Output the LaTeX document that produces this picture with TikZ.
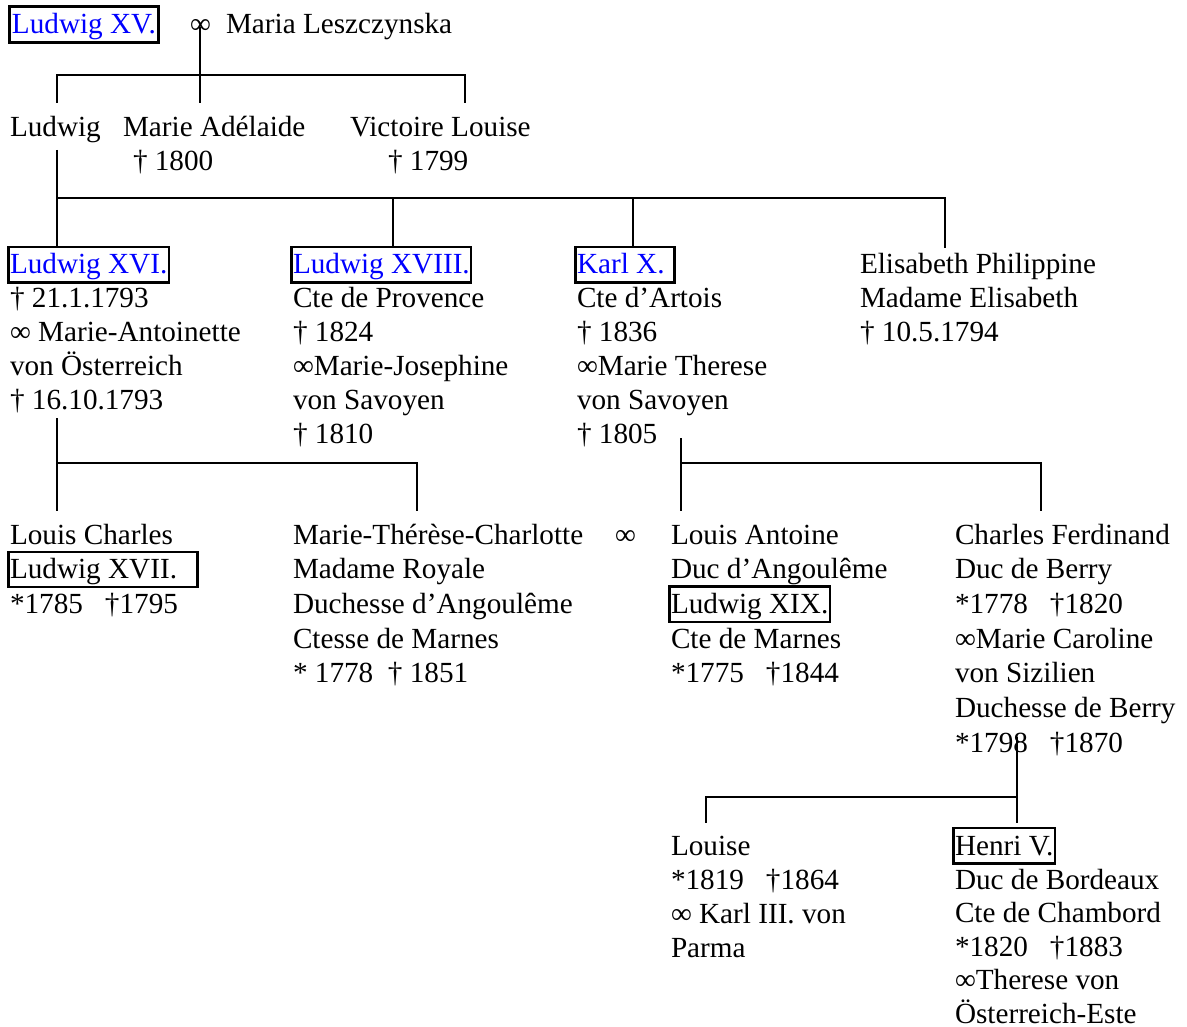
\documentclass[tikz,border=0pt]{standalone}
\usepackage{fontspec}
\setmainfont{Liberation Serif}
\newcommand\lines[1]{\vtop{\let\\\cr\halign{##\hfil\cr#1\crcr}}}
\newcommand\st{\relax *}
\begin{document}
\begin{tikzpicture}[x=1pt,y=-1pt,
  every node/.style={inner sep=0pt, outer sep=0pt, anchor=base west},
  base/.style={font=\fontsize{29.2}{34}\selectfont},
  wide/.style={font=\fontsize{29.2}{34.7}\selectfont},
  narrow/.style={font=\fontsize{29.2}{33.5}\selectfont},
  kbox/.style={base, draw, line width=2.4pt, inner xsep=1.5pt, inner ysep=1.5pt, text height=25.5pt, text depth=7pt},
  royal/.style={text=blue},
  link/.style={line width=2pt}]
\useasboundingbox (0,0) rectangle (1187,1027);

% generation 0
\node[kbox,royal,line width=3pt,inner xsep=2.5pt] (l15) at (9.5,34) {Ludwig XV.};
\node[base] (inf0) at (190,34) {∞};
\node[base] (mle) at (226,34) {Maria Leszczynska};

% generation 1
\node[base] (lud) at (10,137) {Ludwig};
\node[base] (mad) at (123,137) {\lines{Marie Adélaide\\\hspace{10pt}† 1800}};
\node[base] (vil) at (350,137) {\lines{Victoire Louise\\\hspace{38pt}† 1799}};

% generation 2
\node[kbox,royal] (l16) at (8.5,274) {Ludwig XVI.};
\node[base] (l16b) at (10,308) {\lines{† 21.1.1793\\∞ Marie-Antoinette\\von Österreich\\† 16.10.1793}};
\node[kbox,royal] (l18) at (291.5,274) {Ludwig XVIII.};
\node[base] (l18b) at (293,308) {\lines{Cte de Provence\\† 1824\\∞Marie-Josephine\\von Savoyen\\† 1810}};
\node[kbox,royal] (k10) at (575.5,274) {\makebox[96pt][l]{Karl X.}};
\node[base] (k10b) at (577,308) {\lines{Cte d’Artois\\† 1836\\∞Marie Therese\\von Savoyen\\† 1805}};
\node[base] (eli) at (860,274) {\lines{Elisabeth Philippine\\Madame Elisabeth\\† 10.5.1794}};

% generation 3
\node[base] (lc) at (10,544) {Louis Charles};
\node[kbox] (l17) at (8.5,578.7) {\makebox[186pt][l]{Ludwig XVII.}};
\node[base] (lcb) at (10,613.4) {\st1785\hspace{22pt}†1795};
\node[wide] (mtc) at (293,544) {\lines{Marie-Thérèse-Charlotte\\Madame Royale\\Duchesse d’Angoulême\\Ctesse de Marnes\\\st\ 1778 \ † 1851}};
\node[base] (inf3) at (615,544) {∞};
\node[wide] (la) at (671,544) {\lines{Louis Antoine\\Duc d’Angoulême}};
\node[kbox] (l19) at (669.5,613.4) {Ludwig XIX.};
\node[wide] (lab) at (671,648.1) {\lines{Cte de Marnes\\\st1775\hspace{22pt}†1844}};
\node[wide] (cf) at (955,544) {\lines{Charles Ferdinand\\Duc de Berry\\\st1778\hspace{22pt}†1820\\∞Marie Caroline\\von Sizilien\\Duchesse de Berry\\\st1798\hspace{22pt}†1870}};

% generation 4
\node[base] (lou) at (671,855) {\lines{Louise\\\st1819\hspace{22pt}†1864\\∞ Karl III. von\\Parma}};
\node[kbox] (h5) at (953.5,855) {Henri V.};
\node[narrow] (h5b) at (955,889) {\lines{Duc de Bordeaux\\Cte de Chambord\\\st1820\hspace{22pt}†1883\\∞Therese von\\Österreich-Este}};

% connectors: generation 0 -> 1
\coordinate (a0) at (57,103);
\coordinate (a1) at (201,103);
\coordinate (a2) at (465,103);
\coordinate (aj) at (57,75);
\draw[link] (inf0.center) -- (inf0.center |- a1);
\draw[link] (a0) -- (aj) -| (a2);

% generation 1 -> 2
\coordinate (b0) at (57,150);
\coordinate (bj) at (57,198);
\coordinate (b18) at (393,246);
\coordinate (b10) at (633,246);
\coordinate (bel) at (945,248);
\draw[link] (b0) -- (b0 |- l16.north);
\draw[link] (bj) -| (bel);
\draw[link] (bj -| b18) -- (b18);
\draw[link] (bj -| b10) -- (b10);

% Ludwig XVI -> children
\coordinate (c0) at (57,418);
\coordinate (cj) at (57,463);
\coordinate (c1) at (57,511);
\coordinate (c2) at (417,511);
\draw[link] (c0) -- (c1);
\draw[link] (cj) -| (c2);

% Karl X -> children
\coordinate (d0) at (681,438);
\coordinate (dj) at (681,463);
\coordinate (d1) at (681,511);
\coordinate (d2) at (1041,511);
\draw[link] (d0) -- (d1);
\draw[link] (dj) -| (d2);

% Charles Ferdinand -> children
\coordinate (e0) at (1017,737);
\coordinate (ej) at (1017,797);
\coordinate (e1) at (1017,823);
\coordinate (e2) at (706,823);
\draw[link] (e0) -- (e1);
\draw[link] (ej) -| (e2);
\end{tikzpicture}
\end{document}
